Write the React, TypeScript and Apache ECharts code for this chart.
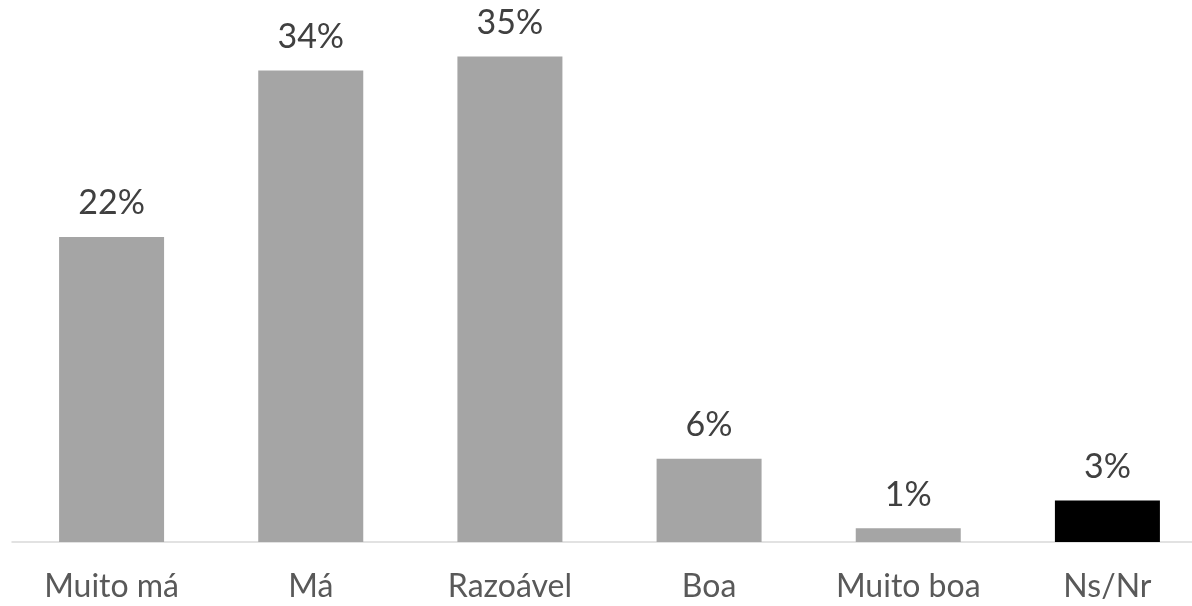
import React, { useEffect, useRef } from "react";
import * as echarts from "echarts";

const categories = ["Muito má", "Má", "Razoável", "Boa", "Muito boa", "Ns/Nr"];
const values = [22, 34, 35, 6, 1, 3];
const highlighted = ["Ns/Nr"];

export default function App() {
  const ref = useRef<HTMLDivElement>(null);
  useEffect(() => {
    if (!ref.current) return;
    const chart = echarts.init(ref.current, null, { renderer: "svg" });
    const font = "Lato, 'Open Sans', sans-serif";
    chart.setOption({
      animation: false,
      grid: { left: 12, right: 0, top: 15, bottom: 64, containLabel: false },
      xAxis: {
        type: "category",
        data: categories,
        axisLine: { lineStyle: { color: "#D9D9D9", width: 1.5 } },
        axisTick: { show: false },
        axisLabel: {
          interval: 0,
          color: "#595959",
          fontSize: 32,
          lineHeight: 30,
          fontFamily: font,
          margin: 27,
        },
      },
      yAxis: {
        type: "value",
        min: 0,
        max: 38,
        show: false,
        splitLine: { show: false },
      },
      series: [
        {
          type: "bar",
          barWidth: 105,
          data: categories.map((c, i) => ({
            value: values[i],
            itemStyle: { color: highlighted.includes(c) ? "#000000" : "#A5A5A5" },
          })),
          label: {
            show: true,
            position: "top",
            distance: 19,
            formatter: "{c}%",
            color: "#404040",
            fontSize: 34,
            fontFamily: font,
          },
        },
      ],
    });
    return () => chart.dispose();
  }, []);
  return (
    <div
      style={{
        position: "fixed",
        left: 0,
        top: 0,
        width: 1192,
        height: 606,
        overflow: "hidden",
      }}
    >
      <div ref={ref} style={{ position: "absolute", left: 0, top: 0, width: 1207, height: 606 }} />
    </div>
  );
}
